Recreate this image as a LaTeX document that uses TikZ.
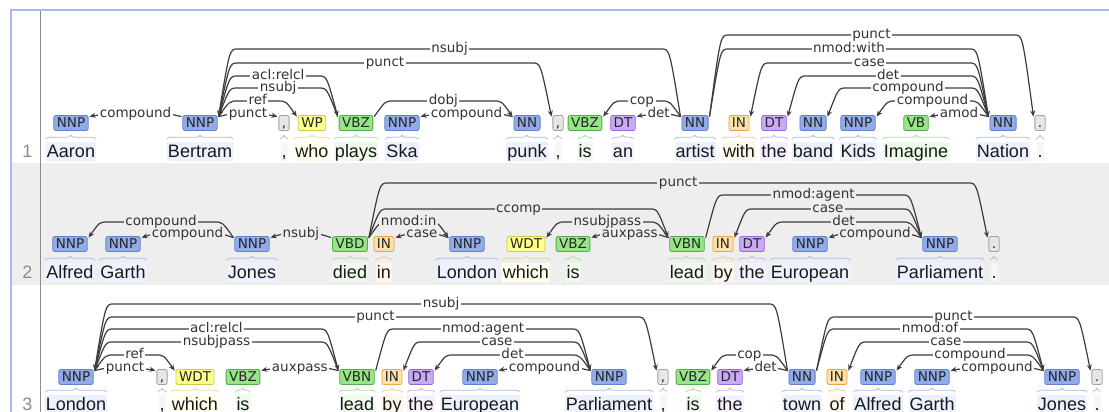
\documentclass[tikz,border=0pt]{standalone}
\usepackage{fontspec}
\setmainfont{Liberation Sans}
\newfontfamily\dejavu{DejaVu Sans}
\usetikzlibrary{calc, arrows.meta, decorations.pathreplacing}

\definecolor{rowgray}{RGB}{238,238,238}
\definecolor{framecol}{RGB}{165,185,245}
\definecolor{arcgray}{RGB}{60,60,60}
\definecolor{nnfill}{RGB}{145,170,232}\definecolor{nnline}{RGB}{100,128,205}
\definecolor{nnbg}{RGB}{236,242,253}\definecolor{nnbr}{RGB}{168,186,230}
\definecolor{vbfill}{RGB}{150,230,135}\definecolor{vbline}{RGB}{85,170,75}
\definecolor{vbbg}{RGB}{238,250,236}\definecolor{vbbr}{RGB}{170,220,160}
\definecolor{wdfill}{RGB}{255,255,140}\definecolor{wdline}{RGB}{210,200,80}
\definecolor{wdbg}{RGB}{255,255,236}\definecolor{wdbr}{RGB}{225,220,150}
\definecolor{infill}{RGB}{255,226,170}\definecolor{inline}{RGB}{230,165,70}
\definecolor{inbg}{RGB}{255,247,234}\definecolor{inbr}{RGB}{240,200,150}
\definecolor{dtfill}{RGB}{200,170,245}\definecolor{dtline}{RGB}{150,105,220}
\definecolor{dtbg}{RGB}{246,240,254}\definecolor{dtbr}{RGB}{200,175,238}
\definecolor{pufill}{RGB}{230,230,230}\definecolor{puline}{RGB}{160,160,160}
\definecolor{pubg}{RGB}{246,246,246}\definecolor{pubr}{RGB}{190,190,190}

\newcommand{\postagfont}{\dejavu\fontsize{13.5}{14}\selectfont}
\newcommand{\arclabelfont}{\dejavu\fontsize{13.5}{14}\selectfont}
\newcommand{\wordtextfont}{\fontsize{18}{20}\selectfont}

\tikzset{
  tagbox/.style={draw=#1line, fill=#1fill, rounded corners=2pt, line width=0.8pt,
    font=\postagfont, text=black!85, inner xsep=3pt, inner ysep=0pt,
    minimum height=15pt, text height=9.8pt, text depth=0pt},
  word/.style={fill=#1bg, font=\wordtextfont, text=black!90, anchor=base,
    inner xsep=1pt, inner ysep=1.5pt, text height=14pt, text depth=2pt},
  brc/.style={draw=#1br, line width=0.8pt, decorate, decoration={brace, amplitude=4pt}},
  deplink/.style={draw=arcgray, line width=1.2pt},
  lbl/.style={fill=white, font=\arclabelfont, text=black!80, inner xsep=1.5pt,
    inner ysep=0pt, text height=9pt, text depth=2.5pt},
  dl/.style={{Stealth[length=6pt,width=5pt]}-},
  dr/.style={-{Stealth[length=6pt,width=5pt]}},
  lineno/.style={font=\wordtextfont, text=black!45, anchor=base east}
}

% #1 arrow side, #2 left tag, #3 right tag, #4 level, #5 label
\newcommand{\deparc}[5]{%
  \draw[deplink,#1] let \p1=([shift={(1pt,-1.5pt)}]#2.north east),
    \p2=([shift={(-1pt,-1.5pt)}]#3.north west) in
    (\p1) .. controls (\x1+11pt,-#4pt) .. (\x1+19pt,-#4pt) -- node[lbl] {#5}
    (\x2-19pt,-#4pt) .. controls (\x2-11pt,-#4pt) .. (\p2);}

\begin{document}
\begin{tikzpicture}[x=1pt, y=1pt]
\clip (0,0) rectangle (1109,-412);
\fill[white] (0,0) rectangle (1109,-412);
\fill[rowgray] (12,-163) rectangle (1109,-285);
\draw[framecol, line width=1.5pt] (11,-412) -- (11,-10) -- (1109,-10);
\draw[black!45, line width=1pt] (40,-11) -- (40,-412);

\node[lineno] (n1) at (36,-157) {1};
\node[lineno] (n2) at (36,-278) {2};
\node[lineno] (n3) at (36,-410) {3};

% row 1
\foreach \nm/\xx/\tg/\wrd/\kind in {r1a/71/NNP/Aaron/nn, r1b/200/NNP/Bertram/nn,
  r1c/284/{,}/{,}/pu, r1d/312/WP/who/wd, r1e/356/VBZ/plays/vb, r1f/402/NNP/Ska/nn,
  r1g/527/NN/punk/nn, r1h/558/{,}/{,}/pu, r1i/585/VBZ/is/vb, r1j/623/DT/an/dt,
  r1k/695/NN/artist/nn, r1l/739/IN/with/in, r1m/774/DT/the/dt, r1n/813/NN/band/nn,
  r1o/858/NNP/Kids/nn, r1p/916/VB/Imagine/vb, r1q/1003/NN/Nation/nn, r1r/1040/{.}/{.}/pu}{
  \node[word=\kind] (w\nm) at (\xx,-157) {\wrd};
  \draw[brc=\kind] ([yshift=2pt]w\nm.north west) -- ([yshift=2pt]w\nm.north east);
  \node[tagbox=\kind] (\nm) at (\xx,-123) {\tg};
}

% row 2
\foreach \nm/\xx/\tg/\wrd/\kind in {r2a/70/NNP/Alfred/nn, r2b/123/NNP/Garth/nn,
  r2c/252/NNP/Jones/nn, r2d/350/VBD/died/vb, r2e/384/IN/in/in, r2f/467/NNP/London/nn,
  r2g/526/WDT/which/wd, r2h/573/VBZ/is/vb, r2i/687/VBN/lead/vb, r2j/723/IN/by/in,
  r2k/752/DT/the/dt, r2l/810/NNP/European/nn, r2m/940/NNP/Parliament/nn, r2n/994/{.}/{.}/pu}{
  \node[word=\kind] (w\nm) at (\xx,-278) {\wrd};
  \draw[brc=\kind] ([yshift=2pt]w\nm.north west) -- ([yshift=2pt]w\nm.north east);
  \node[tagbox=\kind] (\nm) at (\xx,-244) {\tg};
}

% row 3
\foreach \nm/\xx/\tg/\wrd/\kind in {r3a/76/NNP/London/nn, r3b/162/{,}/{,}/pu,
  r3c/195/WDT/which/wd, r3d/243/VBZ/is/vb, r3e/357/VBN/lead/vb, r3f/392/IN/by/in,
  r3g/421/DT/the/dt, r3h/480/NNP/European/nn, r3i/609/NNP/Parliament/nn, r3j/663/{,}/{,}/pu,
  r3k/693/VBZ/is/vb, r3l/730/DT/the/dt, r3m/802/NN/town/nn, r3n/837/IN/of/in,
  r3o/878/NNP/Alfred/nn, r3p/932/NNP/Garth/nn, r3q/1062/NNP/Jones/nn, r3r/1097/{.}/{.}/pu}{
  \node[word=\kind] (w\nm) at (\xx,-410) {\wrd};
  \draw[brc=\kind] ([yshift=2pt]w\nm.north west) -- ([yshift=2pt]w\nm.north east);
  \node[tagbox=\kind] (\nm) at (\xx,-377) {\tg};
}

\deparc{dr}{r1k}{r1r}{35}{punct}
\deparc{dl}{r1b}{r1k}{49}{nsubj}
\deparc{dr}{r1k}{r1q}{49}{nmod:with}
\deparc{dr}{r1b}{r1h}{63}{punct}
\deparc{dl}{r1l}{r1q}{63}{case}
\deparc{dr}{r1b}{r1e}{76}{acl:relcl}
\deparc{dl}{r1m}{r1q}{76}{det}
\deparc{dl}{r1b}{r1e}{88}{nsubj}
\deparc{dl}{r1n}{r1q}{88}{compound}
\deparc{dr}{r1b}{r1d}{101}{ref}
\deparc{dr}{r1e}{r1g}{101}{dobj}
\deparc{dl}{r1i}{r1k}{101}{cop}
\deparc{dl}{r1o}{r1q}{101}{compound}
\deparc{dl}{r1a}{r1b}{114}{compound}
\deparc{dr}{r1b}{r1c}{114}{punct}
\deparc{dl}{r1f}{r1g}{114}{compound}
\deparc{dl}{r1j}{r1k}{114}{det}
\deparc{dl}{r1p}{r1q}{114}{amod}

\begin{scope}[lbl/.append style={fill=rowgray}]
\deparc{dr}{r2d}{r2n}{183}{punct}
\deparc{dr}{r2i}{r2m}{195}{nmod:agent}
\deparc{dr}{r2d}{r2i}{209}{ccomp}
\deparc{dl}{r2j}{r2m}{209}{case}
\deparc{dl}{r2a}{r2c}{222}{compound}
\deparc{dr}{r2d}{r2f}{222}{nmod:in}
\deparc{dl}{r2g}{r2i}{222}{nsubjpass}
\deparc{dl}{r2k}{r2m}{222}{det}
\deparc{dl}{r2b}{r2c}{234}{compound}
\deparc{dl}{r2c}{r2d}{234}{nsubj}
\deparc{dl}{r2e}{r2f}{234}{case}
\deparc{dl}{r2h}{r2i}{234}{auxpass}
\deparc{dl}{r2l}{r2m}{234}{compound}
\end{scope}

\deparc{dl}{r3a}{r3m}{304}{nsubj}
\deparc{dr}{r3a}{r3j}{317}{punct}
\deparc{dr}{r3m}{r3r}{317}{punct}
\deparc{dr}{r3a}{r3e}{329}{acl:relcl}
\deparc{dr}{r3e}{r3i}{329}{nmod:agent}
\deparc{dr}{r3m}{r3q}{329}{nmod:of}
\deparc{dl}{r3a}{r3e}{342}{nsubjpass}
\deparc{dl}{r3f}{r3i}{342}{case}
\deparc{dl}{r3n}{r3q}{342}{case}
\deparc{dr}{r3a}{r3c}{355}{ref}
\deparc{dl}{r3g}{r3i}{355}{det}
\deparc{dl}{r3k}{r3m}{355}{cop}
\deparc{dl}{r3o}{r3q}{355}{compound}
\deparc{dr}{r3a}{r3b}{368}{punct}
\deparc{dl}{r3d}{r3e}{368}{auxpass}
\deparc{dl}{r3h}{r3i}{368}{compound}
\deparc{dl}{r3l}{r3m}{368}{det}
\deparc{dl}{r3p}{r3q}{368}{compound}
\end{tikzpicture}
\end{document}
